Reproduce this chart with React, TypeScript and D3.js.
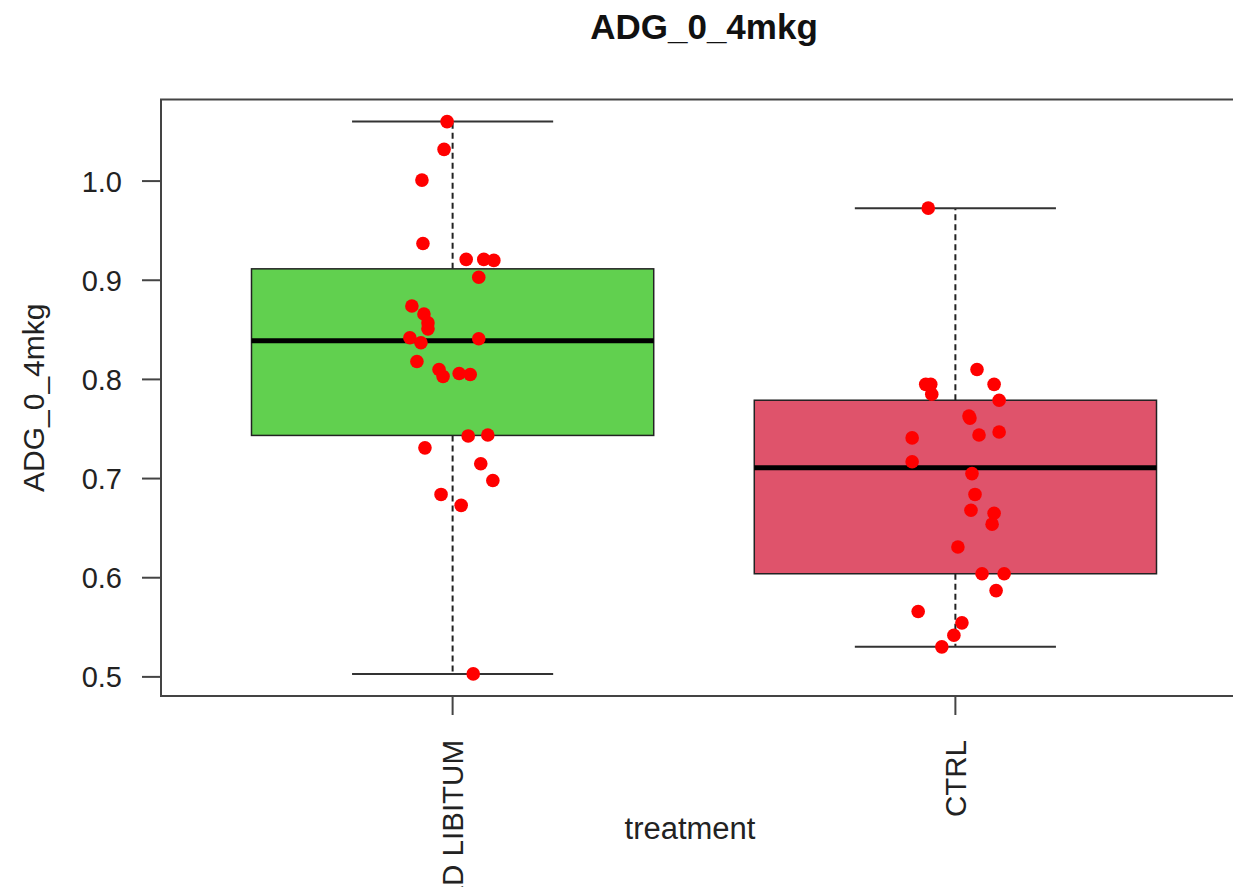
import React from "react";
import * as d3 from "d3";

const categories = ["AD LIBITUM", "CTRL"];
const boxColors = ["#61D04F", "#DF536B"];

// group 1 (AD LIBITUM) values and horizontal jitter (category units)
const adLibValues = [1.06, 1.032, 1.001, 0.937, 0.921, 0.921, 0.92, 0.903, 0.874, 0.866, 0.857, 0.851, 0.842, 0.841, 0.837, 0.818, 0.81, 0.803, 0.806, 0.805, 0.743, 0.744, 0.731, 0.715, 0.698, 0.684, 0.673, 0.503];
const adLibJitter = [-0.011, -0.017, -0.061, -0.059, 0.027, 0.062, 0.082, 0.052, -0.081, -0.057, -0.049, -0.049, -0.085, 0.052, -0.063, -0.071, -0.027, -0.019, 0.013, 0.035, 0.031, 0.07, -0.055, 0.056, 0.08, -0.023, 0.017, 0.041];

// group 2 (CTRL)
const ctrlValues = [0.9727, 0.81, 0.795, 0.795, 0.785, 0.795, 0.779, 0.763, 0.761, 0.741, 0.744, 0.747, 0.717, 0.705, 0.684, 0.668, 0.665, 0.654, 0.631, 0.604, 0.604, 0.587, 0.566, 0.5545, 0.542, 0.5303];
const ctrlJitter = [-0.054, 0.043, -0.059, -0.049, -0.047, 0.077, 0.087, 0.027, 0.029, -0.086, 0.047, 0.087, -0.086, 0.033, 0.039, 0.031, 0.077, 0.073, 0.005, 0.053, 0.097, 0.081, -0.074, 0.013, -0.003, -0.027];

const yTicks = [0.5, 0.6, 0.7, 0.8, 0.9, 1.0];
const title = "ADG_0_4mkg";
const yLabel = "ADG_0_4mkg";
const xLabel = "treatment";

function fivenum(vals: number[]) {
  const s = [...vals].sort((a, b) => a - b);
  const n = s.length;
  const n4 = Math.floor((n + 3) / 2) / 2;
  const d = [1, n4, (n + 1) / 2, n + 1 - n4, n];
  return d.map((v) => 0.5 * (s[Math.floor(v) - 1] + s[Math.ceil(v) - 1]));
}

function boxStats(vals: number[]) {
  const [mn, q1, med, q3, mx] = fivenum(vals);
  const iqr = q3 - q1;
  const lo = Math.min(...vals.filter((v) => v >= q1 - 1.5 * iqr));
  const hi = Math.max(...vals.filter((v) => v <= q3 + 1.5 * iqr));
  return { q1, med, q3, lo, hi, mn, mx };
}

export default function App() {
  const W = 1233, H = 887;
  const groups = [
    { values: adLibValues, jitter: adLibJitter },
    { values: ctrlValues, jitter: ctrlJitter },
  ];
  const all = [...adLibValues, ...ctrlValues];
  const [dmin, dmax] = d3.extent(all) as [number, number];
  const ext = (dmax - dmin) * 0.04;
  const left = 161, right = 1247, top = 99.5, bottom = 696;
  const y = d3.scaleLinear().domain([dmin - ext, dmax + ext]).range([bottom, top]);
  const x = d3.scaleLinear().domain([0.42, 2.58]).range([left, right]);
  const font = "Liberation Sans, Arial, Helvetica, sans-serif";

  return (
    <svg width={W} height={H} style={{ position: "absolute", left: 0, top: 0, background: "#fff" }}>
      <rect x={0} y={0} width={W} height={H} fill="#fff" />
      <text x={(left + right) / 2} y={39} textAnchor="middle" fontFamily={font} fontWeight="bold" fontSize={35} fill="#111">{title}</text>
      {groups.map((g, i) => {
        const st = boxStats(g.values);
        const cx = x(i + 1);
        const hw = x(1.4) - x(1);
        const cw = x(1.2) - x(1);
        return (
          <g key={i}>
            <line x1={cx} x2={cx} y1={y(st.q3)} y2={y(st.hi)} stroke="#222" strokeWidth={2} strokeDasharray="6 4" />
            <line x1={cx} x2={cx} y1={y(st.q1)} y2={y(st.lo)} stroke="#222" strokeWidth={2} strokeDasharray="6 4" />
            <line x1={cx - cw} x2={cx + cw} y1={y(st.hi)} y2={y(st.hi)} stroke="#333" strokeWidth={2} />
            <line x1={cx - cw} x2={cx + cw} y1={y(st.lo)} y2={y(st.lo)} stroke="#333" strokeWidth={2} />
            <rect x={cx - hw} y={y(st.q3)} width={2 * hw} height={y(st.q1) - y(st.q3)} fill={boxColors[i]} stroke="#222" strokeWidth={1.5} />
            <line x1={cx - hw} x2={cx + hw} y1={y(st.med)} y2={y(st.med)} stroke="#000" strokeWidth={5} />
          </g>
        );
      })}
      {groups.map((g, i) =>
        g.values.map((v, j) => (
          <circle key={`${i}-${j}`} cx={x(i + 1 + g.jitter[j])} cy={y(v)} r={6.8} fill="#FF0000" />
        ))
      )}
      <rect x={left} y={top} width={right - left} height={bottom - top} fill="none" stroke="#444" strokeWidth={2} />
      {yTicks.map((t) => (
        <g key={t}>
          <line x1={left - 19} x2={left} y1={y(t)} y2={y(t)} stroke="#444" strokeWidth={2} />
          <text x={122} y={y(t)} dy="0.36em" textAnchor="end" fontFamily={font} fontSize={29} fill="#222">{t.toFixed(1)}</text>
        </g>
      ))}
      {categories.map((c, i) => (
        <g key={c}>
          <line x1={x(i + 1)} x2={x(i + 1)} y1={bottom} y2={bottom + 19} stroke="#444" strokeWidth={2} />
          <text transform={`translate(${x(i + 1) + 10.5},${bottom + 44}) rotate(-90)`} textAnchor="end" fontFamily={font} fontSize={29.5} fill="#222">{c}</text>
        </g>
      ))}
      <text x={(left + right) / 2 - 14} y={839} textAnchor="middle" fontFamily={font} fontSize={31} fill="#222">{xLabel}</text>
      <text transform={`translate(44,${(top + bottom) / 2}) rotate(-90)`} textAnchor="middle" fontFamily={font} fontSize={30} fill="#222">{yLabel}</text>
    </svg>
  );
}
